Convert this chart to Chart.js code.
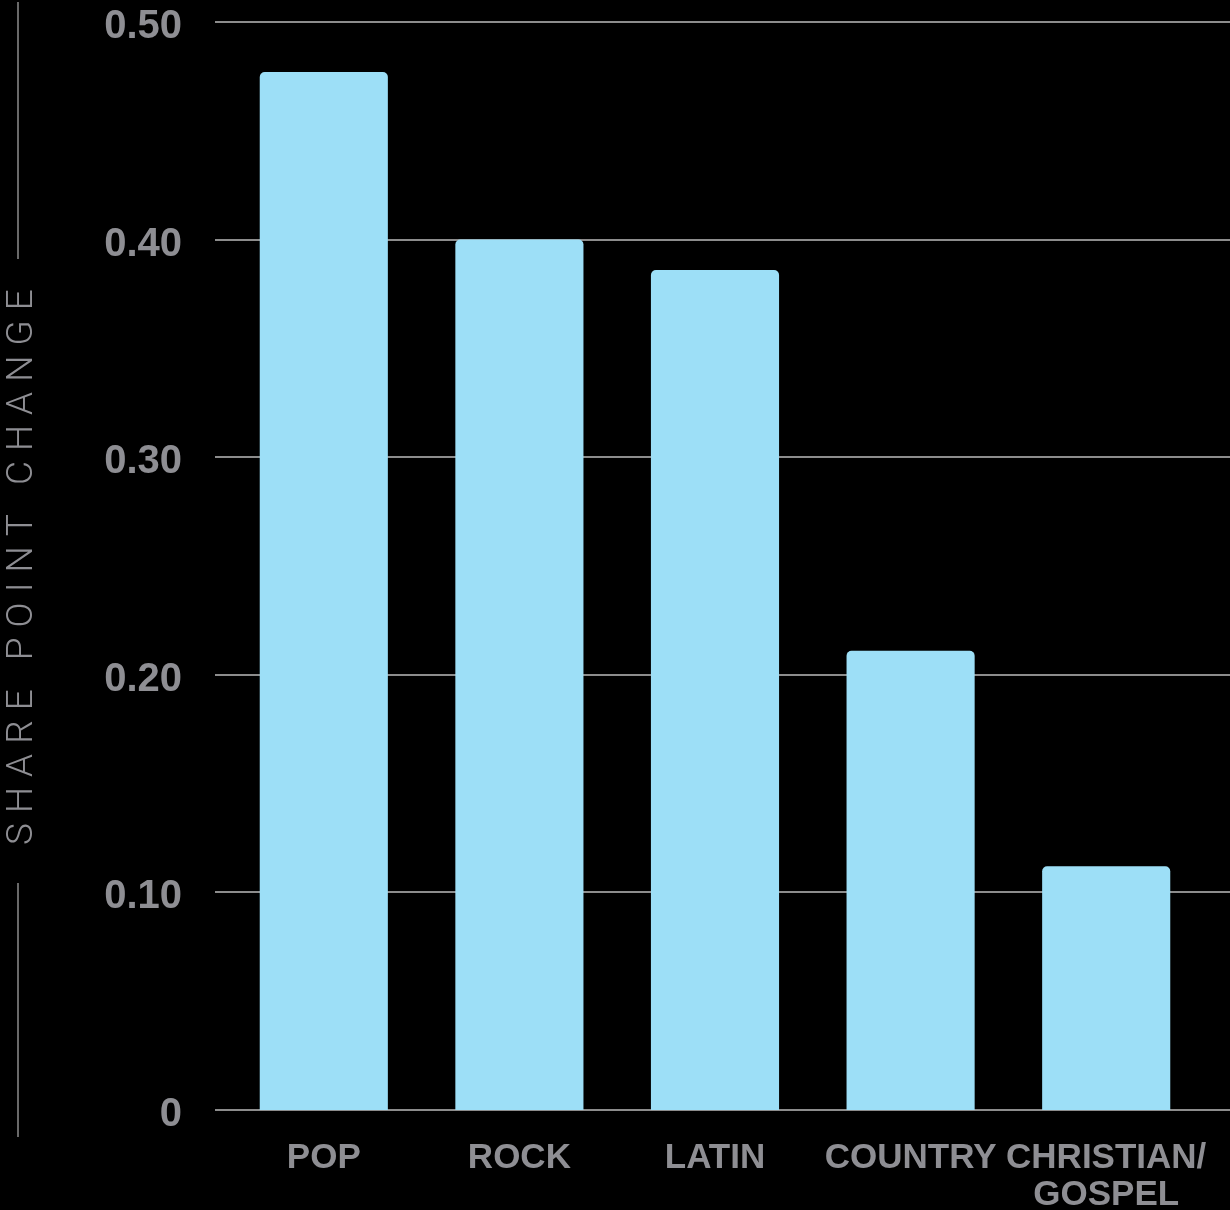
<!DOCTYPE html>
<html>
<head>
<meta charset="utf-8">
<script src="https://cdn.jsdelivr.net/npm/chart.js@4.4.1/dist/chart.umd.min.js"></script>
<style>
  html, body { margin: 0; padding: 0; background: #000; }
  #wrap { width: 1230px; height: 1210px; }
</style>
</head>
<body>
<div id="wrap"><canvas id="c" width="1230" height="1210"></canvas></div>
<script>
const categories = ['POP', 'ROCK', 'LATIN', 'COUNTRY', ['CHRISTIAN/', 'GOSPEL']];
const shareChange = [0.477, 0.40, 0.386, 0.211, 0.112];
const yTickLabels = ['0', '0.10', '0.20', '0.30', '0.40', '0.50'];
const yAxisTitle = 'SHARE POINT CHANGE';

const GRAY = '#8e8e93';
const GRID = '#8c8c8c';
const BAR = '#9ddff7';

const decor = {
  id: 'decor',
  beforeDraw(chart) {
    const ctx = chart.ctx;
    ctx.save();
    ctx.fillStyle = '#000';
    ctx.fillRect(0, 0, chart.width, chart.height);
    ctx.restore();
  },
  beforeDatasetsDraw(chart) {
    const ctx = chart.ctx;
    const y = chart.scales.y;
    ctx.save();
    ctx.strokeStyle = GRID;
    ctx.lineWidth = 2;
    y.ticks.forEach(t => {
      const py = Math.round(y.getPixelForValue(t.value));
      ctx.beginPath();
      ctx.moveTo(215, py);
      ctx.lineTo(chart.width, py);
      ctx.stroke();
    });
    ctx.restore();
  },
  afterDraw(chart) {
    const ctx = chart.ctx;
    ctx.save();
    ctx.strokeStyle = GRID;
    ctx.lineWidth = 1.5;
    ctx.beginPath();
    ctx.moveTo(18, 2); ctx.lineTo(18, 259);
    ctx.moveTo(18, 883); ctx.lineTo(18, 1137);
    ctx.stroke();
    ctx.translate(18, 567);
    ctx.rotate(-Math.PI / 2);
    ctx.font = '300 37px Roboto, "Liberation Sans", sans-serif';
    ctx.fillStyle = GRAY;
    ctx.textBaseline = 'alphabetic';
    ctx.textAlign = 'left';
    const chars = Array.from(yAxisTitle);
    const plain = ctx.measureText(yAxisTitle).width;
    const target = 556;
    const spacing = (target - plain) / (chars.length - 1);
    let x = -target / 2;
    chars.forEach(ch => {
      ctx.fillText(ch, x, 13.5);
      x += ctx.measureText(ch).width + spacing;
    });
    ctx.restore();
  }
};

new Chart(document.getElementById('c'), {
  type: 'bar',
  data: {
    labels: categories,
    datasets: [{
      data: shareChange,
      backgroundColor: BAR,
      borderWidth: 0,
      borderRadius: 5,
      borderSkipped: 'start',
      categoryPercentage: 1,
      barPercentage: 0.655
    }]
  },
  options: {
    responsive: false,
    animation: false,
    devicePixelRatio: 1,
    layout: { padding: { top: 22, right: 26, bottom: 0, left: 0 } },
    plugins: { legend: { display: false }, tooltip: { enabled: false } },
    scales: {
      x: {
        grid: { display: false, drawTicks: false },
        border: { display: false },
        ticks: {
          color: GRAY,
          padding: 29,
          maxRotation: 0,
          autoSkip: false,
          font: { family: '"Liberation Sans", Arial, sans-serif', size: 35, weight: 'bold', lineHeight: 1.08 }
        },
        afterFit(scale) { scale.height = 100; scale.paddingLeft = 0; scale.paddingRight = 0; scale.paddingTop = 0; scale.paddingBottom = 0; }
      },
      y: {
        min: 0,
        max: 0.5,
        grid: { display: false, drawTicks: false },
        border: { display: false },
        ticks: {
          stepSize: 0.1,
          color: GRAY,
          padding: 44,
          labelOffset: 5,
          font: { family: '"Liberation Sans", Arial, sans-serif', size: 40, weight: 'bold', lineHeight: 1 },
          callback: (v, i) => yTickLabels[i]
        },
        afterFit(scale) { scale.width = 226; scale.paddingTop = 0; scale.paddingBottom = 0; scale.paddingLeft = 0; scale.paddingRight = 0; }
      }
    }
  },
  plugins: [decor]
});
</script>
</body>
</html>
